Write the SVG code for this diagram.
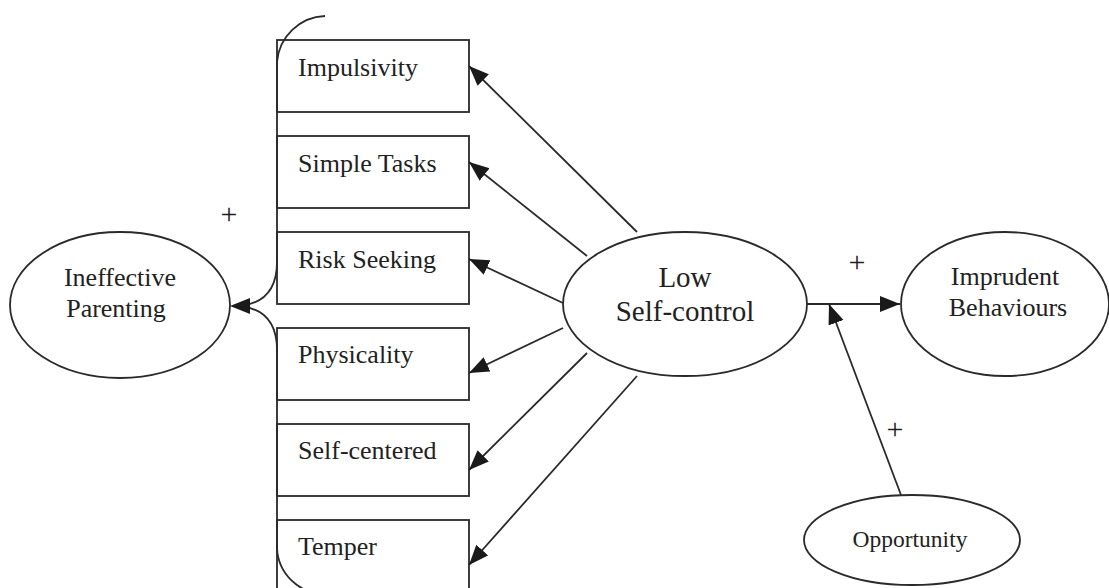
<svg xmlns="http://www.w3.org/2000/svg" width="1109" height="588" viewBox="0 0 1109 588">
<defs>
<marker id="ah" markerUnits="userSpaceOnUse" markerWidth="22" markerHeight="18" refX="20" refY="8" orient="auto">
<path d="M0,0 L20,8 L0,16 z" fill="#1a1a1a"/>
</marker>
<style>
.shape{fill:#fff;stroke:#2a2a2a;stroke-width:1.8}
.line{fill:none;stroke:#2a2a2a;stroke-width:1.8}
.arr{fill:none;stroke:#2a2a2a;stroke-width:1.8;marker-end:url(#ah)}
text{font-family:"Liberation Serif","Times New Roman",serif;fill:#222}
.t{font-size:26px}
.big{font-size:29px}
.sm{font-size:23.5px}
.plus{font-size:30px}
</style>
</defs>
<rect width="1109" height="588" fill="#fff"/>
<g id="impulsivity"><rect class="shape" x="277" y="40" width="192" height="72"/><text class="t" x="298" y="76">Impulsivity</text></g>
<g id="simple-tasks"><rect class="shape" x="277" y="136" width="192" height="72"/><text class="t" x="298" y="172">Simple Tasks</text></g>
<g id="risk-seeking"><rect class="shape" x="277" y="232" width="192" height="72"/><text class="t" x="298" y="268">Risk Seeking</text></g>
<g id="physicality"><rect class="shape" x="277" y="328" width="192" height="72"/><text class="t" x="298" y="363">Physicality</text></g>
<g id="self-centered"><rect class="shape" x="277" y="424" width="192" height="72"/><text class="t" x="298" y="459">Self-centered</text></g>
<g id="temper"><rect class="shape" x="277" y="520" width="192" height="74"/><text class="t" x="298" y="555">Temper</text></g>
<g id="ineffective-parenting"><ellipse class="shape" cx="120" cy="305" rx="110" ry="73"/><text class="t" x="120" y="286" text-anchor="middle">Ineffective</text><text class="t" x="116" y="317" text-anchor="middle">Parenting</text></g>
<g id="low-self-control"><ellipse class="shape" cx="685" cy="304" rx="122" ry="72"/><text class="big" x="685" y="287" text-anchor="middle">Low</text><text class="big" x="685" y="321" text-anchor="middle">Self-control</text></g>
<g id="imprudent-behaviours"><ellipse class="shape" cx="1005" cy="304" rx="104" ry="72"/><text class="t" x="1005" y="285" text-anchor="middle">Imprudent</text><text class="t" x="1008" y="316" text-anchor="middle">Behaviours</text></g>
<g id="opportunity"><ellipse class="shape" cx="912" cy="540" rx="108" ry="45"/><text class="sm" x="910" y="547" text-anchor="middle">Opportunity</text></g>
<g id="connectors">
<path class="line" d="M325,16 A50,50 0 0 0 277,62 L277,262 Q277,302 240,306 Q277,310 277,350 L277,548 A48,48 0 0 0 325,594"/>
<path d="M230,306 L250,298 L250,314 z" fill="#1a1a1a"/>
<line class="arr" x1="637" y1="232" x2="469" y2="66"/>
<line class="arr" x1="587" y1="256" x2="469" y2="162"/>
<line class="arr" x1="563" y1="303" x2="469" y2="259"/>
<line class="arr" x1="563" y1="328" x2="469" y2="373"/>
<line class="arr" x1="587" y1="353" x2="469" y2="470"/>
<line class="arr" x1="637" y1="376" x2="469" y2="565"/>
<line class="arr" x1="807" y1="304" x2="900" y2="304"/>
<line class="arr" x1="901" y1="495" x2="829" y2="304"/>
<text class="plus" x="229" y="224" text-anchor="middle">+</text>
<text class="plus" x="857" y="272" text-anchor="middle">+</text>
<text class="plus" x="895" y="439" text-anchor="middle">+</text>
</g>
</svg>
